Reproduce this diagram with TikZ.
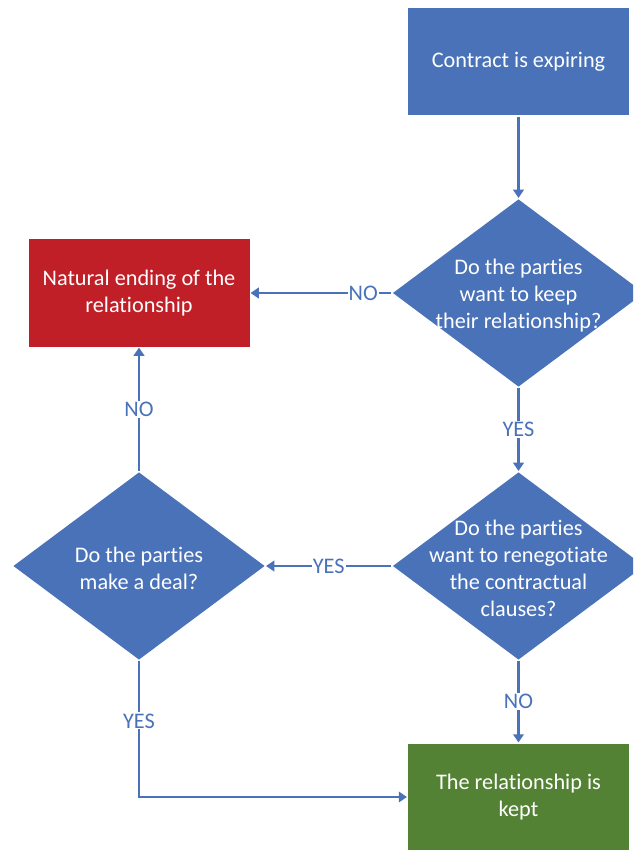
\documentclass[tikz,border=0pt]{standalone}
\usepackage{fontspec}
\setmainfont{Carlito}[RawFeature=-liga]
\usetikzlibrary{arrows.meta, shapes.geometric}
\definecolor{flowblue}{HTML}{4A72B8}
\definecolor{flowred}{HTML}{C01F27}
\definecolor{flowgreen}{HTML}{548235}

\begin{document}
\begin{tikzpicture}[x=0.03cm, y=-0.03cm,
			-{Triangle[length=7pt, width=9pt]}, line width=1.8pt, draw=flowblue,
			box/.style={rectangle, minimum width=221*0.03cm, minimum height=107*0.03cm,
				text=white, font=\fontsize{19}{23}\selectfont, align=center, inner sep=0pt},
			decision/.style={diamond, fill=flowblue, minimum width=252*0.03cm,
				minimum height=188*0.03cm, inner sep=0pt},
			qtext/.style={text=white, font=\fontsize{19}{23}\selectfont, align=center, yshift=-2pt},
			answer/.style={fill=white, text=flowblue, font=\fontsize{19}{20}\selectfont,
				inner sep=1pt}]
			
			\clip (0,0) rectangle (633,850);
			
			% Riquadri
			\node[box, fill=flowblue] (expiring) at (518.5,62) {Contract is expiring};
			\node[box, fill=flowred] (ending) at (139,293) {Natural ending of the\\relationship};
			\node[box, fill=flowgreen] (kept) at (518.5,797) {The relationship is\\kept};
			
			% Rombi di decisione
			\node[decision] (keep) at (518.5,293) {};
			\node[qtext] (keeptxt) at (keep) {Do the parties\\want to keep\\their relationship?};
			\node[decision] (renego) at (518.5,566) {};
			\node[qtext] (renegotxt) at (renego) {Do the parties\\want to renegotiate\\the contractual\\clauses?};
			\node[decision] (deal) at (139,566) {};
			\node[qtext] (dealtxt) at (deal) {Do the parties\\make a deal?};
			
			% --- Collegamenti ---
			\draw (expiring) -- (keep);
			\draw (keep.west) -- node[answer, pos=0.2]{NO} (ending.east);
			\draw (keep.south) -- node[answer]{YES} (renego.north);
			\draw (renego.west) -- node[answer]{YES} (deal.east);
			\draw (renego.south) -- node[answer]{NO} (kept.north);
			\draw (deal.north) -- node[answer]{NO} (ending.south);
			\draw (deal.south) |- node[answer, pos=0.22]{YES} (kept.west);
		\end{tikzpicture}
\end{document}
